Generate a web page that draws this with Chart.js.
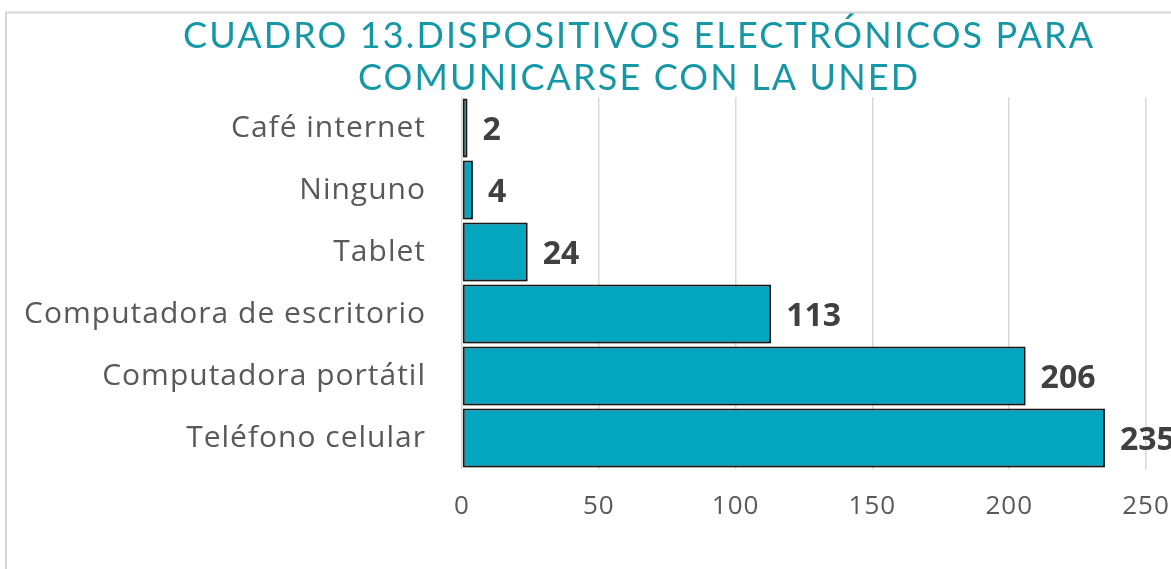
<!DOCTYPE html>
<html>
<head>
<meta charset="utf-8">
<script src="https://cdn.jsdelivr.net/npm/chart.js@4.4.1/dist/chart.umd.min.js"></script>
<style>
  html, body { margin: 0; padding: 0; background: #ffffff; }
  #wrap { position: relative; width: 1171px; height: 569px; }
  canvas { display: block; }
</style>
</head>
<body>
<div id="wrap"><canvas id="c" width="1171" height="569"></canvas></div>
<script>
// ---- data ----
const titleLines = ["CUADRO 13.DISPOSITIVOS ELECTRÓNICOS PARA", "COMUNICARSE CON LA UNED"];
const categories = ["Café internet", "Ninguno", "Tablet", "Computadora de escritorio", "Computadora portátil", "Teléfono celular"];
const values = [2, 4, 24, 113, 206, 235];
const xTickValues = [0, 50, 100, 150, 200, 250];

// ---- plugins ----
const spacingPlugin = {
  id: 'axisSpacing',
  beforeDraw(chart) {
    chart.ctx.save();
    chart.ctx.letterSpacing = '1px';
  },
  beforeDatasetsDraw(chart) {
    chart.ctx.restore();
  }
};

const framePlugin = {
  id: 'frame',
  beforeDraw(chart) {
    const ctx = chart.ctx;
    ctx.save();
    ctx.letterSpacing = '0px';
    ctx.strokeStyle = '#d6d6d6';
    ctx.lineWidth = 2;
    ctx.beginPath();
    ctx.moveTo(6, 569);
    ctx.lineTo(6, 12.5);
    ctx.lineTo(1171, 12.5);
    ctx.stroke();
    ctx.restore();
  }
};

const titlePlugin = {
  id: 'spacedTitle',
  afterDraw(chart) {
    const ctx = chart.ctx;
    ctx.save();
    ctx.font = '36px Lato';
    ctx.fillStyle = '#1697A6';
    ctx.textBaseline = 'alphabetic';
    ctx.textAlign = 'left';
    ctx.letterSpacing = '0px';
    const w0 = ctx.measureText(titleLines[0]).width;
    const sp = (910 - w0) / (titleLines[0].length - 1);
    ctx.letterSpacing = sp + 'px';
    const cx = 638;
    const baselines = [48, 90];
    titleLines.forEach((t, i) => {
      const w = ctx.measureText(t).width - sp;
      ctx.fillText(t, cx - w / 2, baselines[i]);
    });
    ctx.restore();
  }
};

const shadowPlugin = {
  id: 'barShadow',
  beforeDatasetsDraw(chart) {
    const ctx = chart.ctx;
    ctx.save();
    ctx.shadowColor = 'rgba(0,0,0,0.28)';
    ctx.shadowBlur = 4;
    ctx.shadowOffsetX = 2;
    ctx.shadowOffsetY = 2;
  },
  afterDatasetsDraw(chart) {
    chart.ctx.restore();
  }
};

const labelPlugin = {
  id: 'valueLabels',
  afterDatasetsDraw(chart) {
    const ctx = chart.ctx;
    const meta = chart.getDatasetMeta(0);
    ctx.save();
    ctx.font = 'bold 32px "Open Sans"';
    ctx.fillStyle = '#404040';
    ctx.textAlign = 'left';
    ctx.textBaseline = 'middle';
    meta.data.forEach((bar, i) => {
      ctx.fillText(String(values[i]), bar.x + 15, bar.y + 3);
    });
    ctx.restore();
  }
};

// ---- chart ----
const ctx = document.getElementById('c').getContext('2d');
new Chart(ctx, {
  type: 'bar',
  data: {
    labels: categories,
    datasets: [{
      data: values,
      backgroundColor: '#04A6BF',
      borderColor: '#1a1a1a',
      borderWidth: 2,
      borderSkipped: false,
      barPercentage: 0.95,
      categoryPercentage: 1.0
    }]
  },
  options: {
    indexAxis: 'y',
    responsive: false,
    animation: false,
    devicePixelRatio: 1,
    layout: { padding: { top: 97, right: 25, left: 0, bottom: 0 } },
    plugins: {
      legend: { display: false },
      title: { display: false },
      tooltip: { enabled: false }
    },
    scales: {
      x: {
        min: 0,
        max: 250,
        afterBuildTicks(scale) { scale.ticks = xTickValues.map(v => ({ value: v })); },
        afterFit(scale) { scale.height = 100; scale.paddingLeft = 0; scale.paddingRight = 0; },
        grid: { color: '#d9d9d9', lineWidth: 1.5, drawTicks: false },
        border: { display: false },
        ticks: { color: '#595959', font: { family: 'Open Sans', size: 26 }, padding: 22 }
      },
      y: {
        afterFit(scale) { scale.width = 462; scale.paddingTop = 0; scale.paddingBottom = 0; },
        grid: { display: false, drawTicks: false },
        border: { display: false },
        ticks: { color: '#595959', font: { family: 'Open Sans', size: 30 }, padding: 36 }
      }
    }
  },
  plugins: [spacingPlugin, framePlugin, shadowPlugin, labelPlugin, titlePlugin]
});
</script>
</body>
</html>
